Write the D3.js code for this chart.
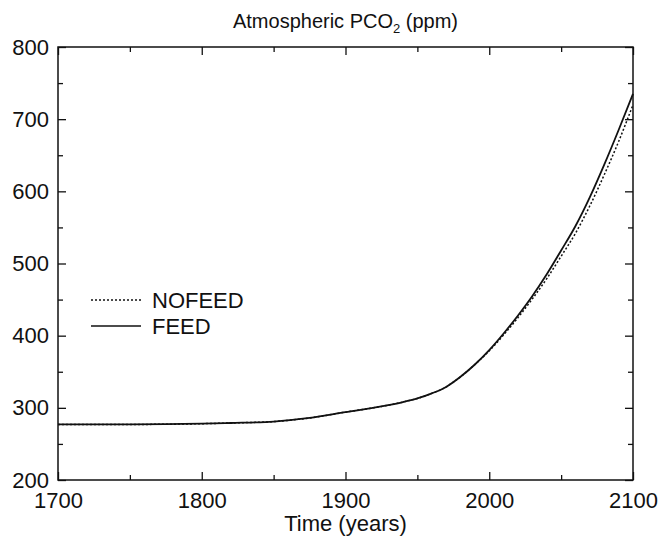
<!DOCTYPE html>
<html lang="en">
<head>
  <meta charset="UTF-8">
  <title>Atmospheric PCO2</title>
  <script src="https://d3js.org/d3.v7.min.js"></script>
  <style>
    body { margin: 0; background: #fff; }
    text { font-family: "Liberation Sans", Arial, sans-serif; fill: #111; }
  </style>
</head>
<body>
  <svg id="chart" width="663" height="539"></svg>

  <script>
    // data
    const years  = [1700, 1750, 1800, 1820, 1850, 1875, 1900, 1925, 1940, 1950, 1960, 1970, 1980, 1990, 2000, 2010, 2020, 2030, 2040, 2050, 2060, 2070, 2080, 2090, 2100];
    const feed   = [277, 277, 278, 279, 281, 286, 294, 302, 308, 313, 320, 329, 343, 360, 380, 403, 428, 455, 485, 518, 552, 592, 637, 685, 735];
    const nofeed = [277, 277, 278, 279, 281, 286, 294, 302, 308, 313, 320, 329, 343, 360, 379, 401, 425, 451, 479, 510, 542, 580, 623, 669, 720];

    const xTicks = [1700, 1800, 1900, 2000, 2100];
    const yTicks = [200, 300, 400, 500, 600, 700, 800];
    const xMinor = [1750, 1850, 1950, 2050];
    const yMinor = [250, 350, 450, 550, 650, 750];

    const legendItems = [
      { name: "NOFEED", dash: "2,2" },
      { name: "FEED", dash: null }
    ];

    const svg = d3.select("#chart");
    const margin = { left: 58, right: 30, top: 47, bottom: 59 };
    const W = 663, H = 539;

    const x = d3.scaleLinear().domain([1700, 2100]).range([margin.left, W - margin.right]);
    const y = d3.scaleLinear().domain([200, 800]).range([H - margin.bottom, margin.top]);

    const x0 = x.range()[0], x1 = x.range()[1];
    const y0 = y.range()[0], y1 = y.range()[1];

    // bottom axis with labels
    svg.append("g")
      .attr("transform", `translate(0,${y0})`)
      .call(d3.axisBottom(x).tickValues(xTicks).tickFormat(d3.format("d"))
        .tickSizeInner(-8).tickSizeOuter(0).tickPadding(12))
      .call(g => g.selectAll("text").style("font-size", "22px").attr("dy", "0.72em"));

    svg.append("g")
      .attr("transform", `translate(0,${y0})`)
      .call(d3.axisBottom(x).tickValues(xMinor).tickFormat("").tickSizeInner(-5).tickSizeOuter(0));

    // top axis, ticks only
    svg.append("g")
      .attr("transform", `translate(0,${y1})`)
      .call(d3.axisTop(x).tickValues(xTicks).tickFormat("").tickSizeInner(-8).tickSizeOuter(0));
    svg.append("g")
      .attr("transform", `translate(0,${y1})`)
      .call(d3.axisTop(x).tickValues(xMinor).tickFormat("").tickSizeInner(-5).tickSizeOuter(0));

    // left axis with labels
    svg.append("g")
      .attr("transform", `translate(${x0},0)`)
      .call(d3.axisLeft(y).tickValues(yTicks).tickFormat(d3.format("d"))
        .tickSizeInner(-8).tickSizeOuter(0).tickPadding(9))
      .call(g => g.selectAll("text").style("font-size", "22px"));
    svg.append("g")
      .attr("transform", `translate(${x0},0)`)
      .call(d3.axisLeft(y).tickValues(yMinor).tickFormat("").tickSizeInner(-5).tickSizeOuter(0));

    // right axis, ticks only
    svg.append("g")
      .attr("transform", `translate(${x1},0)`)
      .call(d3.axisRight(y).tickValues(yTicks).tickFormat("").tickSizeInner(-8).tickSizeOuter(0));
    svg.append("g")
      .attr("transform", `translate(${x1},0)`)
      .call(d3.axisRight(y).tickValues(yMinor).tickFormat("").tickSizeInner(-5).tickSizeOuter(0));

    svg.selectAll(".domain").remove();
    svg.selectAll(".tick line").attr("stroke", "#111").attr("stroke-width", 1.3);

    // frame
    svg.append("rect")
      .attr("x", x0).attr("y", y1)
      .attr("width", x1 - x0).attr("height", y0 - y1)
      .attr("fill", "none").attr("stroke", "#111").attr("stroke-width", 1.5);

    // curves
    const line = d3.line().curve(d3.curveMonotoneX);

    svg.append("path")
      .datum(years.map((d, i) => [x(d), y(nofeed[i])]))
      .attr("d", line)
      .attr("fill", "none").attr("stroke", "#111").attr("stroke-width", 1.5)
      .attr("stroke-dasharray", "2,2");

    svg.append("path")
      .datum(years.map((d, i) => [x(d), y(feed[i])]))
      .attr("d", line)
      .attr("fill", "none").attr("stroke", "#111").attr("stroke-width", 1.8);

    // legend
    const leg = svg.append("g").attr("transform", "translate(91,300)");
    legendItems.forEach((item, i) => {
      const g = leg.append("g").attr("transform", `translate(0,${i * 26})`);
      g.append("line")
        .attr("x1", 0).attr("x2", 50).attr("y1", 0).attr("y2", 0)
        .attr("stroke", "#111").attr("stroke-width", item.dash ? 1.4 : 1.6)
        .attr("stroke-dasharray", item.dash);
      g.append("text")
        .attr("x", 61).attr("y", 0).attr("dy", "0.36em")
        .style("font-size", "22px")
        .text(item.name);
    });

    // title with subscript
    const title = svg.append("text")
      .attr("x", (x0 + x1) / 2).attr("y", 28)
      .attr("text-anchor", "middle")
      .style("font-size", "20px");
    title.append("tspan").text("Atmospheric PCO");
    title.append("tspan").attr("dy", 5).style("font-size", "13px").text("2");
    title.append("tspan").attr("dy", -5).text(" (ppm)");

    // x-axis title
    svg.append("text")
      .attr("x", (x0 + x1) / 2).attr("y", 531)
      .attr("text-anchor", "middle")
      .style("font-size", "22px")
      .text("Time (years)");
  </script>
</body>
</html>
